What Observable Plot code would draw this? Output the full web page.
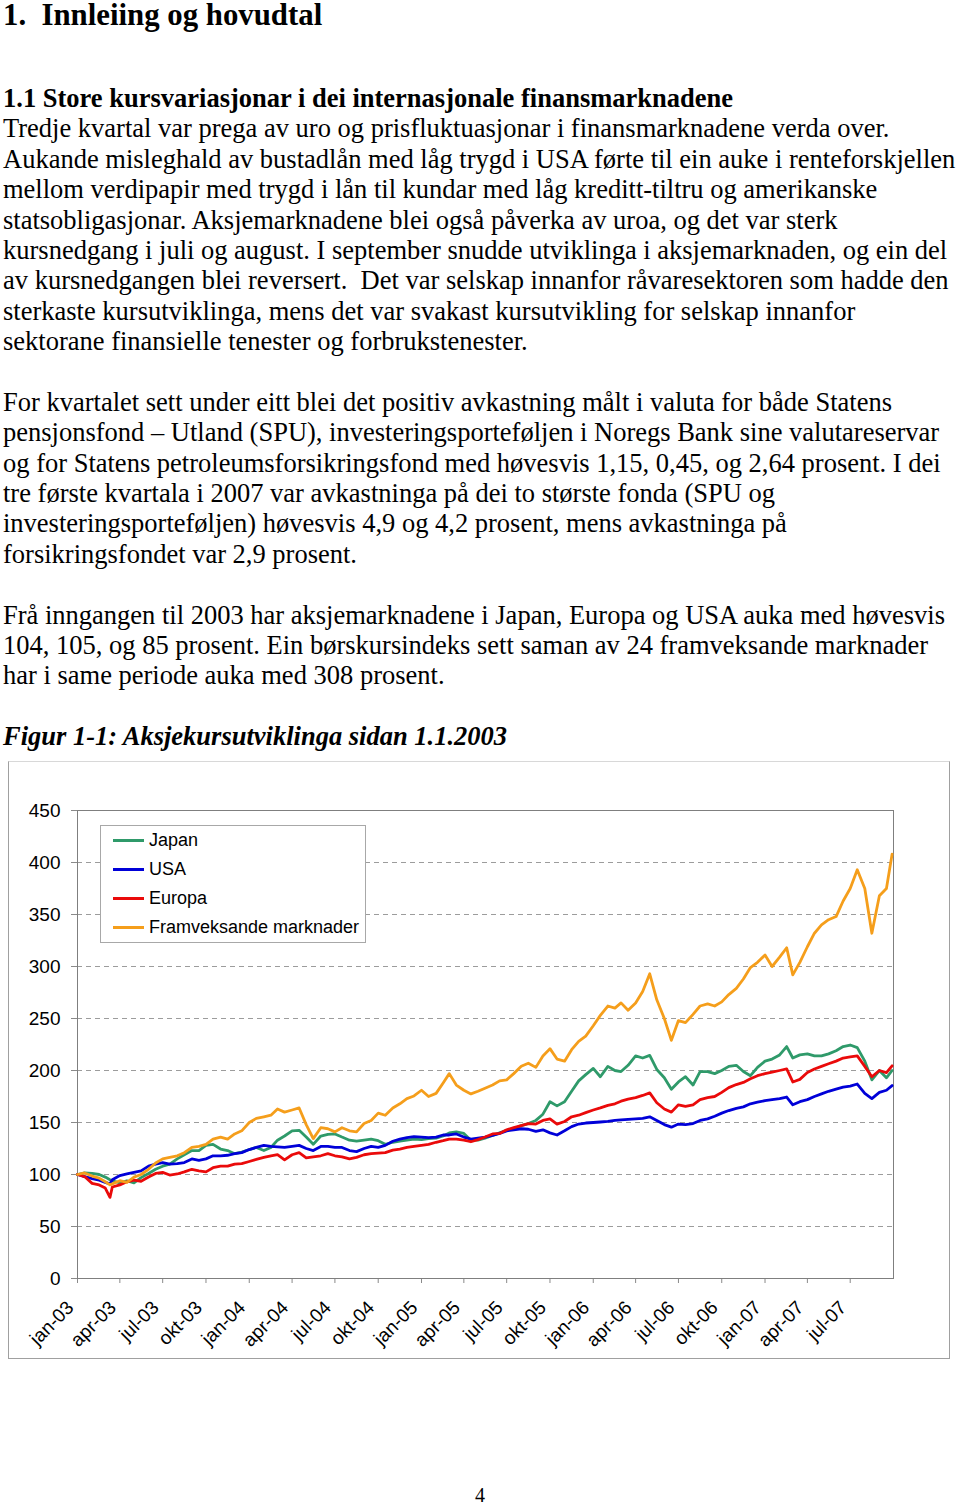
<!DOCTYPE html>
<html><head><meta charset="utf-8">
<script src="https://cdn.jsdelivr.net/npm/d3@7"></script>
<script src="https://cdn.jsdelivr.net/npm/@observablehq/plot@0.6"></script>
<style>
html,body{margin:0;padding:0;background:#fff;}
body{width:960px;height:1505px;position:relative;overflow:hidden;font-family:"Liberation Serif","Times New Roman",serif;color:#000;}
.h1{position:absolute;left:3px;top:0px;font-size:30.8px;font-weight:bold;line-height:30px;white-space:pre;}
.flow{position:absolute;left:3px;top:83px;font-size:26.5px;line-height:30.4px;}
.flow div{white-space:pre;height:30.4px;}
.b{font-weight:bold}
.bi{font-weight:bold;font-style:italic}
#chart{position:absolute;left:8px;top:761px;width:942px;height:598px;box-sizing:border-box;border:1px solid #a0a0a0;border-top-color:#d8d8d8;background:#fff;}
#chart svg{position:absolute;left:0;top:0;}
#legend{position:absolute;left:91px;top:63px;width:266px;height:118px;box-sizing:border-box;border:1px solid #a8a8a8;background:#fff;font-family:"Liberation Sans",Arial,sans-serif;font-size:18px;}
#legend .row{height:29px;line-height:29px;display:flex;align-items:center;white-space:nowrap;}
#legend .sw{display:inline-block;width:31px;height:3px;margin-left:12px;margin-right:5px;}
.pagenum{position:absolute;left:0;width:960px;text-align:center;top:1482px;font-size:20px;line-height:26px;}
</style>
</head><body>
<div class="h1">1.  Innleiing og hovudtal</div>
<div class="flow">
<div class="b">1.1 Store kursvariasjonar i dei internasjonale finansmarknadene</div>
<div>Tredje kvartal var prega av uro og prisfluktuasjonar i finansmarknadene verda over.</div>
<div>Aukande misleghald av bustadlån med låg trygd i USA førte til ein auke i renteforskjellen</div>
<div>mellom verdipapir med trygd i lån til kundar med låg kreditt-tiltru og amerikanske</div>
<div>statsobligasjonar. Aksjemarknadene blei også påverka av uroa, og det var sterk</div>
<div>kursnedgang i juli og august. I september snudde utviklinga i aksjemarknaden, og ein del</div>
<div>av kursnedgangen blei reversert.  Det var selskap innanfor råvaresektoren som hadde den</div>
<div>sterkaste kursutviklinga, mens det var svakast kursutvikling for selskap innanfor</div>
<div>sektorane finansielle tenester og forbrukstenester.</div>
<div> </div>
<div>For kvartalet sett under eitt blei det positiv avkastning målt i valuta for både Statens</div>
<div>pensjonsfond – Utland (SPU), investeringsporteføljen i Noregs Bank sine valutareservar</div>
<div>og for Statens petroleumsforsikringsfond med høvesvis 1,15, 0,45, og 2,64 prosent. I dei</div>
<div>tre første kvartala i 2007 var avkastninga på dei to største fonda (SPU og</div>
<div>investeringsporteføljen) høvesvis 4,9 og 4,2 prosent, mens avkastninga på</div>
<div>forsikringsfondet var 2,9 prosent.</div>
<div> </div>
<div>Frå inngangen til 2003 har aksjemarknadene i Japan, Europa og USA auka med høvesvis</div>
<div>104, 105, og 85 prosent. Ein børskursindeks sett saman av 24 framveksande marknader</div>
<div>har i same periode auka med 308 prosent.</div>
<div> </div>
<div class="bi">Figur 1-1: Aksjekursutviklinga sidan 1.1.2003</div>
</div>
<div id="chart"></div>
<div class="pagenum">4</div>
<script>
// ---- data ----
const dates = [
"2003-01-01","2003-01-16","2003-02-01","2003-02-16","2003-03-01","2003-03-11","2003-03-16","2003-04-01","2003-04-16","2003-05-01","2003-05-16","2003-06-01","2003-06-16","2003-07-01","2003-07-16","2003-08-01","2003-08-16","2003-09-01","2003-09-16","2003-10-01","2003-10-16","2003-11-01","2003-11-16","2003-12-01","2003-12-16",
"2004-01-01","2004-01-16","2004-02-01","2004-02-16","2004-03-01","2004-03-16","2004-04-01","2004-04-16","2004-05-01","2004-05-16","2004-06-01","2004-06-16","2004-07-01","2004-07-16","2004-08-01","2004-08-16","2004-09-01","2004-09-16","2004-10-01","2004-10-16","2004-11-01","2004-11-16","2004-12-01","2004-12-16",
"2005-01-01","2005-01-16","2005-02-01","2005-02-16","2005-03-01","2005-03-16","2005-04-01","2005-04-16","2005-05-01","2005-05-16","2005-06-01","2005-06-16","2005-07-01","2005-07-16","2005-08-01","2005-08-16","2005-09-01","2005-09-16","2005-10-01","2005-10-16","2005-11-01","2005-11-16","2005-12-01","2005-12-16",
"2006-01-01","2006-01-16","2006-02-01","2006-02-16","2006-03-01","2006-03-16","2006-04-01","2006-04-16","2006-05-01","2006-05-16","2006-06-01","2006-06-16","2006-07-01","2006-07-16","2006-08-01","2006-08-16","2006-09-01","2006-09-16","2006-10-01","2006-10-16","2006-11-01","2006-11-16","2006-12-01","2006-12-16",
"2007-01-01","2007-01-16","2007-02-01","2007-02-16","2007-03-01","2007-03-16","2007-04-01","2007-04-16","2007-05-01","2007-05-16","2007-06-01","2007-06-16","2007-07-01","2007-07-16","2007-08-01","2007-08-16","2007-09-01","2007-09-16","2007-09-28"
];
const japan = [
100,101.5,101,100,97.5,95,94,92,94,92,97,101,105,108,110,115,119,123,123,128,129,124.5,123,120,121.5,
124,126,123,126,133,137,142,142.5,136,129,137,138.5,139,136,133,132,133,134,132.5,129,131,132,133,134,
133.5,134.5,135,137,140,141,139.5,133,133,135,137.5,140,142.5,144,147,149,152,158,170,166,170,180,190,196,
202,194,204,200,199,205,214,212,214.5,201,193,182,189,194,186,199,199,197,200,204,205,199,195,203,
209,211,215,223,212,215,216,214,214,216,219,223,224.5,222,209,191,200,193,200
];
const usa = [
100,98,96,94.5,92.5,91,95,99,100.5,102,103.5,108,110,111.5,110,110.5,111.5,115,113.5,115,118,118,118.5,120,121,
124,126,128,127,126.5,126,127,128,125,123,127,127,126,126,123,122,125,127,126,128,132,134,135.5,136.5,
136,135.5,136,138,138,139,136,134,135,136,137.5,139.5,142,143,144,143.5,141.5,143,140,138,142,146,148.5,149.5,
150,150.5,151,152,152.5,153,153.5,154,155.5,152,148,145.5,148.5,148,149,152,153.5,156,159,161.5,163.5,165,168,169.5,
171,172,173,174.5,167,170,172,175,177.5,180,182,184,185,187,178,173,179,181,185.5
];
const europa = [
100,98,91.5,90,87,78,88,90,93,94.5,93.5,97.5,101,102,99.5,100.5,102.5,105,103.5,102.5,106.5,108,108,110,110.5,
112.5,114.5,116.5,118,119,114,119,121,116,117,118,120,118,117,115,116.5,119,120,120.5,121,123.5,124.5,126,127,
128,129,131,132.5,134,134,133,131.5,133.5,136,139,139.5,143,145,147,149,148.5,152,153.5,148.5,151,155.5,157,159.5,
162,164,166.5,168,170.5,172.5,174,176,178.5,169,163,160,167,165.5,167,172,174,175,179,183.5,186.5,188.5,192,195,
197,198.5,200,201.5,189,191.5,198,201.5,204,206.5,209,212,213,214,204,194,200,198,204.5
];
const framveksande = [
100,101.5,98.5,96.5,93,90,91,94,92.5,97.5,100,105,111,115,116.5,118,121,126,127,129,134,136,134,139,142,
150,154,155.5,157,163,160,162,164,148,134.5,145,144,141,145,142,141,149,152,159,157,164,168,173,175.5,
181,175,178,188,197,186,181,177.5,180,183,186,190,191,197,204,207,203,214,221,211,209,220,228,233,
243,253,262,260,265,258,265,276,293,268,250,229,248,246,254,262,264,262,266,273,279,288,299,304,
311,300,309,318,292,304,319,332,340,345,348,363,375,393,375,332,368,375,408
];
const seriesNames = ["Japan", "USA", "Europa", "Framveksande marknader"];
const seriesColors = ["#2f9a6a", "#0000d8", "#ea0a0a", "#f59e1b"];
const yTicks = [0, 50, 100, 150, 200, 250, 300, 350, 400, 450];
const gridValues = [50, 100, 150, 200, 250, 300, 350, 400];
const tickDates = ["2003-01-01","2003-04-01","2003-07-01","2003-10-01","2004-01-01","2004-04-01","2004-07-01","2004-10-01","2005-01-01","2005-04-01","2005-07-01","2005-10-01","2006-01-01","2006-04-01","2006-07-01","2006-10-01","2007-01-01","2007-04-01","2007-07-01"];
const tickLabels = ["jan-03","apr-03","jul-03","okt-03","jan-04","apr-04","jul-04","okt-04","jan-05","apr-05","jul-05","okt-05","jan-06","apr-06","jul-06","okt-06","jan-07","apr-07","jul-07"];
const xDomain = ["2003-01-01", "2007-10-01"];

// ---- build table ----
const valuesBySeries = [japan, usa, europa, framveksande];
const rows = [];
seriesNames.forEach((s, si) => {
  dates.forEach((d, i) => rows.push({date: new Date(d), series: s, value: valuesBySeries[si][i]}));
});
const xTicks = tickDates.map((d, i) => ({date: new Date(d), label: tickLabels[i]}));

const chart = Plot.plot({
  width: 940,
  height: 596,
  marginLeft: 68,
  marginRight: 56,
  marginTop: 48,
  marginBottom: 80,
  style: {fontFamily: "'Liberation Sans', Arial, sans-serif", fontSize: "19px", color: "#000", background: "transparent", overflow: "visible"},
  x: {type: "utc", domain: xDomain.map(d => new Date(d))},
  y: {domain: [0, 450]},
  color: {domain: seriesNames, range: seriesColors},
  marks: [
    Plot.gridY(gridValues, {stroke: "#9c9c9c", strokeOpacity: 1, strokeDasharray: "5,4"}),
    Plot.axisY({ticks: yTicks, tickSize: 6, tickPadding: 11, fontSize: 19, stroke: "#8a8a8a", fill: "#000", label: null}),
    Plot.axisX({ticks: xTicks.map(t => t.date), tickSize: 5, tickFormat: () => "", stroke: "#8a8a8a", label: null}),
    Plot.text(xTicks, {x: "date", text: "label", frameAnchor: "bottom", rotate: -45, textAnchor: "end", lineAnchor: "middle", dx: -7, dy: 26, fontSize: 19, fill: "#000"}),
    Plot.frame({stroke: "#7f7f7f"}),
    Plot.line(rows, {x: "date", y: "value", z: "series", stroke: "series", strokeWidth: 2.8, strokeLinejoin: "round"})
  ]
});
const box = document.getElementById("chart");
box.appendChild(chart);

// legend (HTML, inside the chart box)
const legend = document.createElement("div");
legend.id = "legend";
seriesNames.forEach((s, i) => {
  const row = document.createElement("div");
  row.className = "row";
  const sw = document.createElement("span");
  sw.className = "sw";
  sw.style.background = seriesColors[i];
  const t = document.createElement("span");
  t.textContent = s;
  row.appendChild(sw); row.appendChild(t);
  legend.appendChild(row);
});
box.appendChild(legend);
</script>
</body></html>
